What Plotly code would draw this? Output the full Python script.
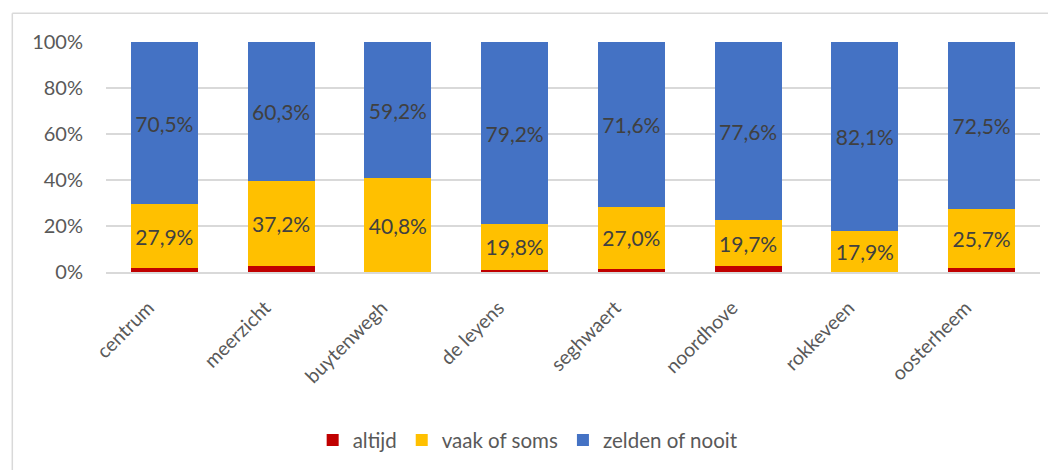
import plotly.graph_objects as go

categories = ["centrum", "meerzicht", "buytenwegh", "de leyens", "seghwaert", "noordhove", "rokkeveen", "oosterheem"]
altijd = [1.6, 2.5, 0.0, 1.0, 1.4, 2.7, 0.0, 1.8]
vaak_of_soms = [27.9, 37.2, 40.8, 19.8, 27.0, 19.7, 17.9, 25.7]
zelden_of_nooit = [70.5, 60.3, 59.2, 79.2, 71.6, 77.6, 82.1, 72.5]
y_ticks = [0, 20, 40, 60, 80, 100]
y_tick_labels = ["0%", "20%", "40%", "60%", "80%", "100%"]


def fmt(v):
    return f"{v:.1f}%".replace(".", ",")


FONT = "Lato, 'Open Sans', sans-serif"

fig = go.Figure()
fig.add_trace(go.Bar(name="altijd", x=categories, y=altijd, marker_color="#C00000",
                     marker_line_width=0, hoverinfo="skip"))
fig.add_trace(go.Bar(name="vaak of soms", x=categories, y=vaak_of_soms, marker_color="#FFC000",
                     marker_line_width=0, text=[fmt(v) for v in vaak_of_soms],
                     textposition="inside", insidetextanchor="middle",
                     textfont=dict(size=21, color="#404040", family=FONT), hoverinfo="skip"))
fig.add_trace(go.Bar(name="zelden of nooit", x=categories, y=zelden_of_nooit, marker_color="#4472C4",
                     marker_line_width=0, text=[fmt(v) for v in zelden_of_nooit],
                     textposition="inside", insidetextanchor="middle",
                     textfont=dict(size=21, color="#404040", family=FONT), hoverinfo="skip"))

fig.update_layout(
    barmode="stack",
    bargap=0.426,
    width=1048, height=462,
    margin=dict(l=98, r=16, t=34, b=197),
    paper_bgcolor="white", plot_bgcolor="white",
    font=dict(family=FONT, color="#595959", size=19),
    uniformtext=dict(minsize=8, mode="show"),
    legend=dict(orientation="h", x=0.452, xanchor="center", y=-0.724, yanchor="middle",
                font=dict(size=20.5, color="#595959"), traceorder="normal"),
    xaxis=dict(tickangle=-45, tickfont=dict(size=19.5, color="#595959"), showgrid=False,
               showline=True, linecolor="#D9D9D9", linewidth=1.5, ticks="",
               ticklabelshift=-16, ticklabelstandoff=15),
    yaxis=dict(range=[0, 100], tickvals=y_ticks, ticktext=y_tick_labels,
               showgrid=True, gridcolor="#D9D9D9", gridwidth=1.5, zeroline=False,
               tickfont=dict(size=20, color="#595959"), ticklabelstandoff=22),
    shapes=[
        dict(type="line", xref="paper", yref="paper", x0=-0.1003, x1=-0.1003, y0=1.125, y1=-1.0,
             line=dict(color="#D9D9D9", width=1.5)),
        dict(type="line", xref="paper", yref="paper", x0=-0.1003, x1=1.1, y0=1.125, y1=1.125,
             line=dict(color="#D9D9D9", width=1.5)),
    ],
)

fig.write_html("out.html")
